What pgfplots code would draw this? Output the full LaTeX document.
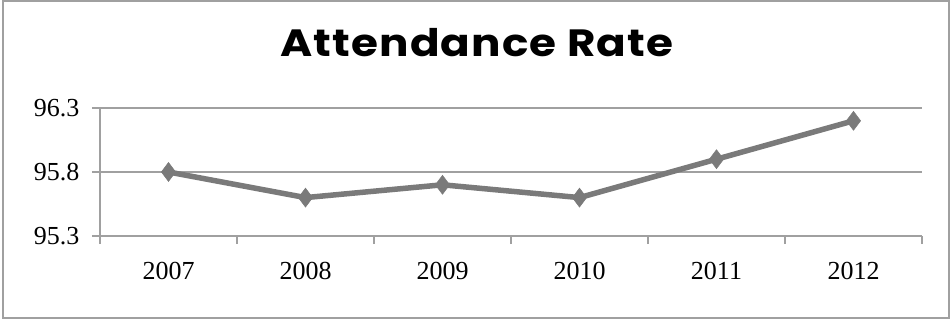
\documentclass[border=0pt]{standalone}
\usepackage{pgfplots}
\pgfplotsset{compat=1.18}
\usepackage{fontspec}
\setmainfont{Liberation Serif}
\newfontfamily\titlefont[FakeStretch=1.15,LetterSpace=3]{Poppins}
\definecolor{linegray}{RGB}{122,122,122}
\definecolor{gridgray}{RGB}{160,160,160}
\begin{document}
\begin{tikzpicture}
\useasboundingbox (-100bp,-84bp) rectangle (851bp,236bp);
\draw[gridgray,line width=1.2bp] (-97bp,-82bp) rectangle (849bp,235bp);
\begin{axis}[
  at={(0,0)}, anchor=south west,
  scale only axis,
  width=822bp, height=128bp,
  xmin=-0.5, xmax=5.5,
  ymin=95.3, ymax=96.3,
  xtick={-0.5,0.5,...,5.5},
  x tick label as interval,
  xticklabels={2007,2008,2009,2010,2011,2012},
  ytick={95.3,95.8,96.3},
  yticklabels={95.3,95.8,96.3},
  axis x line*=bottom, axis y line*=left,
  axis line style={gridgray,line width=1.2bp,-},
  tick align=outside,
  major tick length=8bp,
  tick style={gridgray,line width=1.2bp},
  ymajorgrids,
  major grid style={gridgray,line width=1.2bp},
  tick label style={font=\fontsize{26bp}{30bp}\selectfont},
  /pgf/number format/assume math mode=true,
  xticklabel style={yshift=-15bp},
  yticklabel style={xshift=-9bp},
  clip=false,
]
\addplot[linegray, line width=5.5bp, mark=diamond*, mark size=9.5bp, mark options={fill=linegray, line width=0.5bp}]
coordinates {(0,95.8) (1,95.6) (2,95.7) (3,95.6) (4,95.9) (5,96.2)};
\end{axis}
\node[anchor=base] at (377bp,179bp) {\titlefont\bfseries\fontsize{38bp}{42bp}\selectfont Attendance Rate};
\end{tikzpicture}
\end{document}
